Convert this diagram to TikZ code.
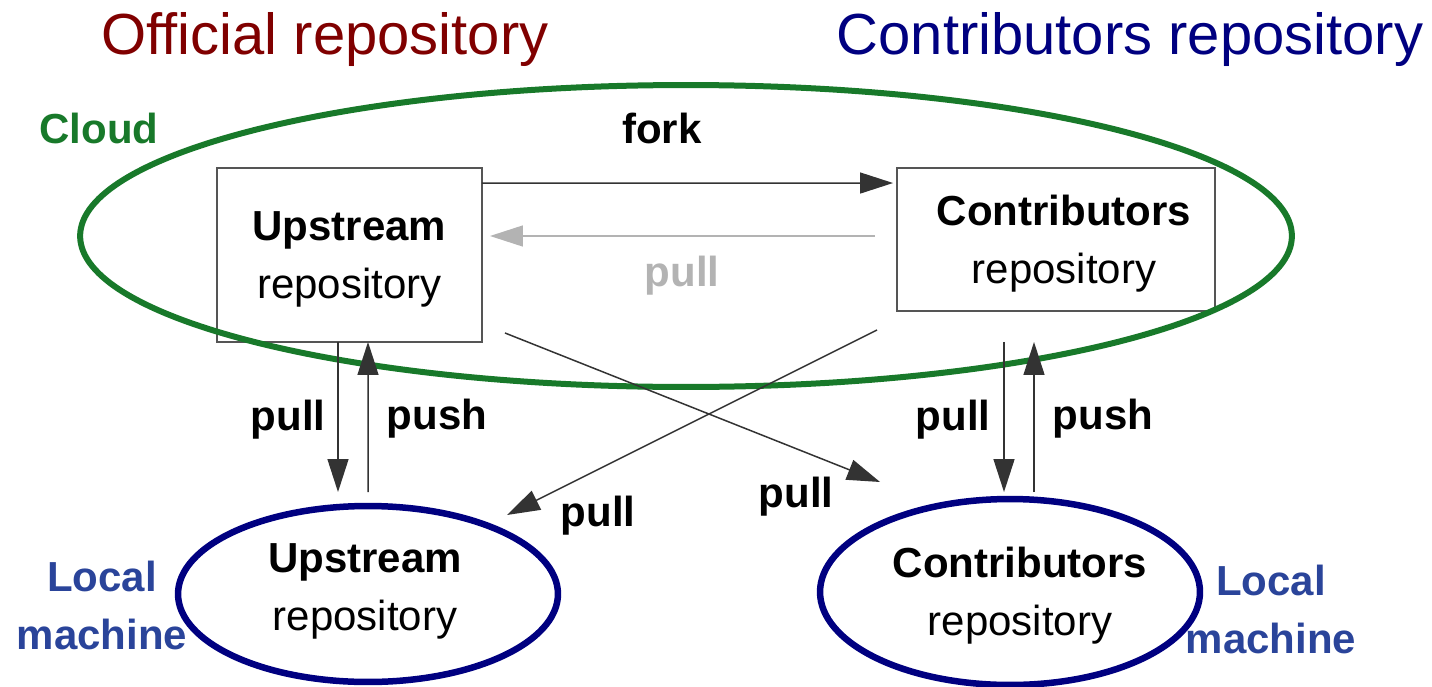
\documentclass[tikz,border=0pt]{standalone}
\usepackage{fontspec}
\setmainfont{Liberation Sans}
\usetikzlibrary{arrows.meta,calc,shapes.geometric}
\definecolor{offred}{HTML}{800000}
\definecolor{contnavy}{HTML}{000080}
\definecolor{cloudgreen}{HTML}{18792A}
\definecolor{localblue}{HTML}{2A449A}
\definecolor{pullgray}{HTML}{B3B3B3}
\definecolor{arrowgray}{HTML}{333333}
\definecolor{boxgray}{HTML}{555555}
\begin{document}
\begin{tikzpicture}[x=0.02cm,y=-0.02cm,
    every node/.style={font=\fontsize{23.9}{33}\selectfont,align=center,inner sep=0pt,outer sep=0pt},
    repo/.style={draw=boxgray,line width=0.03cm},
    local/.style={draw=contnavy,ellipse,line width=0.13cm,minimum width=7.6cm},
    flow/.style={draw=arrowgray,line width=0.03cm,-{Triangle[length=0.66cm,width=0.42cm]}},
    lbl/.style={font=\fontsize{23.9}{33}\selectfont\bfseries},
    heading/.style={font=\fontsize{33}{40}\selectfont}]
    \useasboundingbox (0,0) rectangle (1432,686);
    % titles
    \node[heading,text=offred] at (325,40) (toff) {Official repository};
    \node[heading,text=contnavy] at (1130,40) (tcon) {Contributors repository};
    % repositories in the cloud
    \node[repo,minimum width=5.3cm,minimum height=3.48cm,
          label={[yshift=-0.08cm]center:{\textbf{Upstream}\\repository}}] at (349.5,255) (up) {};
    \node[repo,minimum width=6.36cm,minimum height=2.86cm,
          label={[xshift=0.16cm,yshift=-0.08cm]center:{\textbf{Contributors}\\repository}}] at (1056,239.5) (contrib) {};
    \node[draw=cloudgreen,ellipse,line width=0.12cm,minimum width=24.24cm,minimum height=6.04cm] at (686,236) (cloud) {};
    \node[lbl,text=cloudgreen] at (99,128) (lcloud) {Cloud};
    % local machines
    \node[local,minimum height=3.52cm,
          label={[xshift=-0.06cm,yshift=0.06cm]center:{\textbf{Upstream}\\repository}}] at (368,594) (uplocal) {};
    \node[local,minimum height=3.72cm,
          label={[xshift=0.2cm,yshift=-0.08cm]center:{\textbf{Contributors}\\repository}}] at (1010,592) (contriblocal) {};
    \node[lbl,text=localblue] at (102,605) (lloc1) {Local\\machine};
    \node[lbl,text=localblue] at (1271,609) (lloc2) {Local\\machine};
    % arrows
    \draw[flow] ($(up.north east)+(0,15)$) to ($(contrib.north west)+(-4,15)$);
    \draw[flow,draw=pullgray] ($(contrib.west)+(-22,-3.5)$) to ($(up.east)+(8,-19)$);
    \draw[flow] ($(up.south)+(-11.5,0)$) to ($(uplocal.north)+(-30,-14)$);
    \draw[flow] ($(uplocal.north)+(0,-14)$) to ($(up.south)+(18.5,0)$);
    \draw[flow] ($(contrib.south)+(-52,31)$) to ($(contriblocal.north)+(-6,-7)$);
    \draw[flow] ($(contriblocal.north)+(24,-7)$) to ($(contrib.south)+(-22,31)$);
    \draw[flow] ($(up.south east)+(23,-9)$) to ($(contriblocal.west)+(60,-110)$);
    \draw[flow] ($(contrib.south west)+(-20,19)$) to ($(uplocal.east)+(-51,-79)$);
    % arrow labels
    \node[lbl] at (662,128) (lfork) {fork};
    \node[lbl,text=pullgray] at (682,276) (lpull0) {pull};
    \node[lbl] at (288,420) (lpull1) {pull};
    \node[lbl] at (437,419) (lpush1) {push};
    \node[lbl] at (953,420) (lpull2) {pull};
    \node[lbl] at (1103,419) (lpush2) {push};
    \node[lbl] at (598,516) (lpull3) {pull};
    \node[lbl] at (796,497) (lpull4) {pull};
\end{tikzpicture}
\end{document}
